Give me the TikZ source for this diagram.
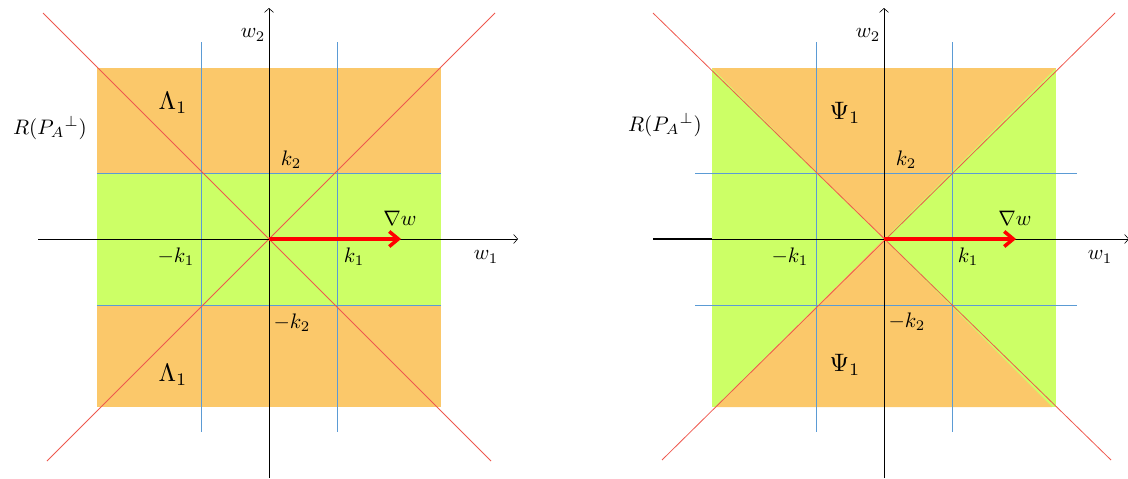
\documentclass[tikz,border=0pt]{standalone}
\usepackage{amsmath}
\usepackage{amssymb}
\usepackage{tikz}
\usetikzlibrary{arrows.meta}

\definecolor{regorange}{RGB}{251,200,106}
\definecolor{reggreen}{RGB}{204,255,102}
\definecolor{gridblue}{RGB}{91,155,213}
\definecolor{diagred}{RGB}{238,88,78}

\begin{document}
\begin{tikzpicture}[
    x=1pt, y=-1pt,
    every node/.style={scale=2.1, inner sep=0pt},
    region/.style={scale=1.2},
    axis/.style={-{Straight Barb[length=4pt,width=9pt]}, line width=0.6pt, black},
    gridline/.style={gridblue, line width=0.8pt},
    diagline/.style={diagred, line width=0.8pt},
    grad/.style={-{Straight Barb[length=9pt,width=15pt]}, red, line width=3.5pt}
]
\useasboundingbox (0,0) rectangle (1128,479);

% left panel: horizontal band
\begin{scope}[shift={(269,239)}]
  \fill[regorange] (-172,-171) rectangle (172,168);
  \fill[reggreen] (-172,-66) rectangle (172,66);
  \foreach \t in {-68,68} {
    \coordinate (lvt\t) at (\t,-197);
    \coordinate (lvb\t) at (\t,193);
    \draw[gridline] (lvt\t) -- (lvb\t);
  }
  \foreach \t in {-66,66} {
    \coordinate (lhl\t) at (-172,\t);
    \coordinate (lhr\t) at (172,\t);
    \draw[gridline] (lhl\t) -- (lhr\t);
  }
  \coordinate (lo) at (0,0);
  \coordinate (ld1) at (-226,-226);
  \coordinate (ld2) at (222,222);
  \coordinate (ld3) at (226,-226);
  \coordinate (ld4) at (-222,222);
  \draw[diagline] (ld1) -- (ld2);
  \draw[diagline] (ld3) -- (ld4);
  \coordinate (lxa) at (-231,0);
  \coordinate (lxb) at (249,0);
  \coordinate (lya) at (0,239);
  \coordinate (lyb) at (0,-231);
  \draw[axis] (lxa) -- (lxb);
  \draw[axis] (lya) -- (lyb);
  \coordinate (lgrad) at (132,0);
  \draw[grad] (lo) -- (lgrad);

  \node (lw2) at (-16,-204) {$w_2$};
  \node (lw1) at (217,18) {$w_1$};
  \node (lnabla) at (131,-21) {$\nabla w$};
  \node (lk2) at (22,-79) {$k_2$};
  \node (lmk2) at (23,84) {$-k_2$};
  \node (lmk1) at (-93,18) {$-k_1$};
  \node (lk1) at (85,18) {$k_1$};
  \node[region] (lamtop) at (-96,-136) {$\Lambda_1$};
  \node[region] (lambot) at (-96,136) {$\Lambda_1$};
  \node (lrange) at (-219,-111) {$R(P_A{}^{\perp})$};
\end{scope}

% right panel: vertical wedges
\begin{scope}[shift={(884,239)}]
  \fill[reggreen] (-172,-171) rectangle (172,168);
  \fill[regorange] (-172,-171) -- (172,-171) -- (0,0) -- cycle;
  \fill[regorange] (-168,168) -- (168,168) -- (0,0) -- cycle;
  \foreach \t in {-68,68} {
    \coordinate (rvt\t) at (\t,-197);
    \coordinate (rvb\t) at (\t,193);
    \draw[gridline] (rvt\t) -- (rvb\t);
  }
  \foreach \t in {-66,66} {
    \coordinate (rhl\t) at (-189,\t);
    \coordinate (rhr\t) at (193,\t);
    \draw[gridline] (rhl\t) -- (rhr\t);
  }
  \coordinate (ro) at (0,0);
  \coordinate (rd1) at (-231,-226);
  \coordinate (rd2) at (227,221);
  \coordinate (rd3) at (231,-226);
  \coordinate (rd4) at (-222,221);
  \draw[diagline] (rd1) -- (rd2);
  \draw[diagline] (rd3) -- (rd4);
  \coordinate (rxa) at (-231,0);
  \coordinate (rxs) at (-172,0);
  \coordinate (rxb) at (245,0);
  \coordinate (rya) at (0,239);
  \coordinate (ryb) at (0,-231);
  \draw[axis] (rxa) -- (rxb);
  \draw[line width=1.2pt] (rxa) -- (rxs);
  \draw[axis] (rya) -- (ryb);
  \coordinate (rgrad) at (132,0);
  \draw[grad] (ro) -- (rgrad);

  \node (rw2) at (-16,-204) {$w_2$};
  \node (rw1) at (216,18) {$w_1$};
  \node (rnabla) at (131,-21) {$\nabla w$};
  \node (rk2) at (22,-79) {$k_2$};
  \node (rmk2) at (23,83) {$-k_2$};
  \node (rmk1) at (-94,18) {$-k_1$};
  \node (rk1) at (84,18) {$k_1$};
  \node[region] (psitop) at (-39,-126) {$\Psi_1$};
  \node[region] (psibot) at (-39,126) {$\Psi_1$};
  \node (rrange) at (-219,-114) {$R(P_A{}^{\perp})$};
\end{scope}
\end{tikzpicture}
\end{document}
